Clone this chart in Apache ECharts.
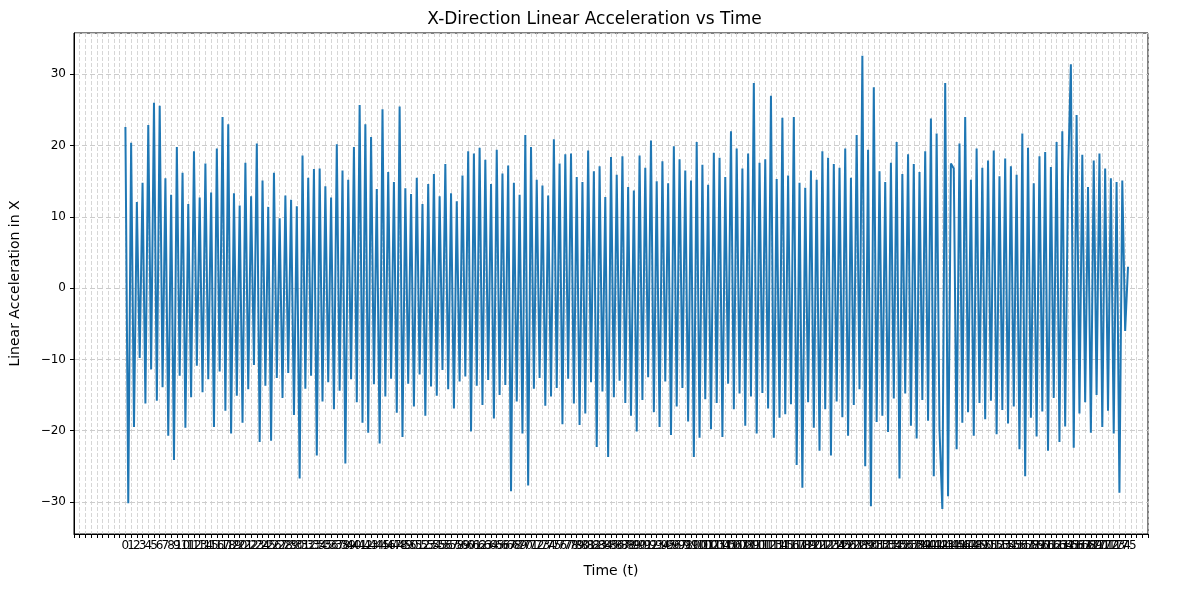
<!DOCTYPE html>
<html>
<head>
<meta charset="utf-8">
<script src="https://cdn.jsdelivr.net/npm/echarts@6/dist/echarts.min.js"></script>
<style>body{margin:0;background:#fff}#main{width:1189px;height:590px}</style>
</head>
<body>
<div id="main"></div>
<script>
// 采样步长 0.5
const step = 0.5;
const accX = [
22.6,-30.2,20.4,-19.5,12.1,-9.8,14.8,-16.2,22.9,-11.4,26.0,-15.8,25.6,-13.9,15.4,-20.7,13.1,-24.1,19.8,-12.3,
16.2,-19.6,11.8,-15.3,19.2,-10.9,12.7,-14.6,17.5,-12.8,13.4,-19.5,19.6,-11.7,24.0,-17.2,23.0,-20.4,13.3,-15.1,
11.6,-18.9,17.6,-14.2,12.9,-10.8,20.3,-21.6,15.1,-13.7,11.4,-21.4,16.2,-12.6,9.8,-15.4,13.0,-11.9,12.4,-17.8,
11.5,-26.7,18.6,-14.1,15.5,-12.3,16.7,-23.5,16.8,-15.9,14.3,-13.2,12.7,-17.0,20.2,-14.4,16.5,-24.6,15.2,-12.8,
19.8,-16.0,25.7,-18.9,23.0,-20.3,21.2,-13.5,13.9,-21.8,25.1,-15.2,16.3,-12.7,14.9,-17.5,25.5,-20.9,14.0,-13.4,
13.2,-16.6,15.5,-12.1,11.8,-17.9,14.6,-13.8,16.0,-15.1,12.9,-11.5,17.4,-14.2,13.3,-16.9,12.2,-13.1,15.8,-12.4,
19.2,-20.1,18.9,-13.7,19.7,-16.4,18.0,-12.9,14.6,-18.3,19.4,-15.0,16.1,-13.6,17.2,-28.5,14.8,-15.9,13.1,-20.4,
21.5,-27.7,19.8,-14.1,15.2,-12.6,14.4,-16.5,13.0,-15.2,20.9,-14.0,17.5,-19.1,18.8,-12.7,18.9,-16.2,15.6,-19.2,
14.9,-17.6,19.3,-13.2,16.4,-22.3,17.1,-14.5,12.8,-23.7,18.4,-15.3,15.9,-13.0,18.5,-16.1,14.2,-17.9,13.7,-20.1,
18.6,-15.7,16.9,-12.5,20.7,-17.4,15.0,-19.5,17.8,-13.1,14.7,-20.6,19.9,-16.6,18.1,-14.0,16.5,-18.7,15.1,-23.7,
20.5,-21.0,17.3,-15.6,14.5,-19.8,19.0,-16.1,18.3,-20.9,15.6,-13.4,22.0,-17.0,19.6,-14.8,16.8,-19.3,18.9,-15.2,
28.8,-20.4,17.6,-14.7,18.1,-16.9,27.0,-21.0,15.3,-18.2,23.9,-17.7,15.8,-16.3,24.0,-24.8,14.8,-28.0,14.1,-16.0,
16.5,-19.6,15.2,-22.8,19.2,-17.0,18.3,-23.5,17.4,-15.9,16.9,-18.1,19.6,-20.7,15.5,-16.4,21.5,-14.2,32.6,-25.0,
19.4,-30.6,28.2,-18.8,16.4,-17.9,14.9,-20.2,17.6,-15.5,20.5,-26.7,16.0,-14.8,18.8,-19.3,17.4,-21.1,16.3,-15.7,
19.2,-18.6,23.8,-26.4,21.7,-19.8,-31.0,28.8,-29.2,17.5,16.8,-22.6,20.3,-18.9,24.0,-17.4,15.2,-20.7,19.6,-16.1,
16.9,-18.4,17.9,-15.8,19.3,-20.5,15.7,-17.1,18.2,-19.0,17.1,-16.6,15.9,-22.6,21.7,-26.4,19.7,-18.2,14.7,-20.8,
18.5,-17.3,19.1,-22.8,17.0,-15.4,20.5,-21.6,22.0,-19.4,15.6,31.4,-22.4,24.3,-17.6,18.7,-16.0,14.2,-20.3,17.9,
-15.0,18.9,-19.5,16.8,-17.2,15.4,-20.4,14.9,-28.7,15.1,-6.0,3.0
];
const lastTick = 175;
const yTicks = [-30, -20, -10, 0, 10, 20, 30];

let chart = echarts.init(document.getElementById('main'));
chart.setOption({
    animation: false,
    title: {
        text: 'X-Direction Linear Acceleration vs Time',
        left: 'center', top: 6,
        textStyle: {fontSize: 17, fontWeight: 'normal', color: '#000', fontFamily: 'DejaVu Sans'}
    },
    grid: {left: 73, right: 41, top: 33, bottom: 56, show: true, borderColor: '#000', borderWidth: 1},
    xAxis: {
        type: 'value', min: -9, max: 179, interval: 1,
        name: 'Time (t)', nameLocation: 'middle', nameGap: 30,
        nameTextStyle: {fontSize: 14, color: '#000', fontFamily: 'DejaVu Sans'},
        axisLine: {onZero: false, lineStyle: {color: '#000'}},
        axisTick: {length: 4, lineStyle: {color: '#000'}},
        axisLabel: {
            interval: 0, fontSize: 12, color: '#000', margin: 6, fontFamily: 'DejaVu Sans',
            formatter: v => (v >= 0 && v <= lastTick) ? String(v) : ''
        },
        splitLine: {show: true, lineStyle: {color: '#ccc', type: [4, 2], width: 0.8}}
    },
    yAxis: {
        type: 'value', min: -34.5, max: 35.8,
        name: 'Linear Acceleration in X', nameLocation: 'middle', nameGap: 52,
        nameTextStyle: {fontSize: 14, color: '#000', fontFamily: 'DejaVu Sans'},
        axisLine: {show: true, onZero: false, lineStyle: {color: '#000'}},
        axisTick: {show: true, length: 4, lineStyle: {color: '#000'}},
        axisLabel: {
            fontSize: 12, color: '#000', fontFamily: 'DejaVu Sans',
            showMinLabel: false, showMaxLabel: false,
            formatter: v => yTicks.includes(v) ? (v < 0 ? '\u2212' + (-v) : String(v)) : ''
        },
        splitLine: {lineStyle: {color: '#ccc', type: [5, 3]}}
    },
    series: [{
        type: 'line', showSymbol: false,
        data: accX.map((v, i) => [i * step, v]),
        lineStyle: {color: '#1f77b4', width: 2},
        itemStyle: {color: '#1f77b4'}
    }]
});
</script>
</body>
</html>
